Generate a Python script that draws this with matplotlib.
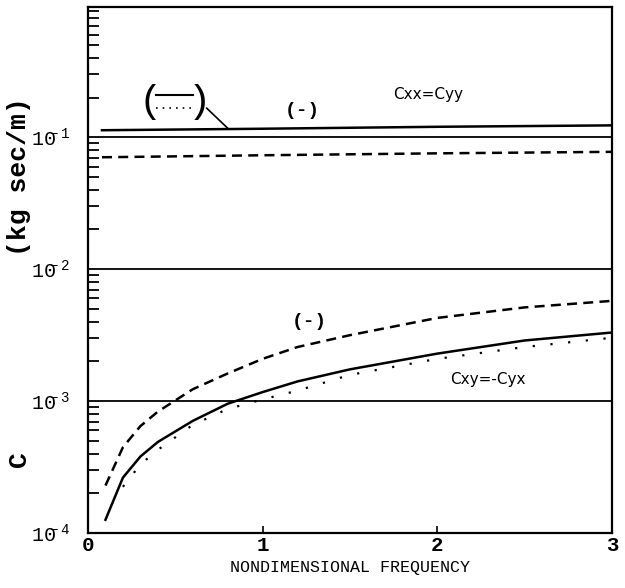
import numpy as np
import matplotlib.pyplot as plt

# direct terms Cxx = Cyy (top pair)
freq_top = [0.08, 1.0, 2.0, 3.0]
cxx_solid = [0.113, 0.116, 0.120, 0.123]
cxx_dash = [0.0705, 0.073, 0.0755, 0.0775]

# cross terms Cxy = -Cyx
freq = [0.1, 0.2, 0.3, 0.4, 0.6, 0.8, 1.0, 1.2, 1.5, 2.0, 2.5, 3.0]
cxy_solid = [1.26e-4, 2.63e-4, 3.80e-4, 4.90e-4, 7.08e-4, 9.55e-4,
             1.17e-3, 1.41e-3, 1.74e-3, 2.29e-3, 2.88e-3, 3.31e-3]
cxy_dash = [2.29e-4, 4.47e-4, 6.46e-4, 8.32e-4, 1.23e-3, 1.62e-3,
            2.09e-3, 2.57e-3, 3.16e-3, 4.27e-3, 5.13e-3, 5.75e-3]
freq_dot = [0.2, 0.3, 0.4, 0.6, 0.8, 1.0, 1.2, 1.5, 2.0, 2.5, 3.0]
cxy_dot = [2.24e-4, 3.31e-4, 4.27e-4, 6.61e-4, 8.71e-4, 1.03e-3,
           1.20e-3, 1.58e-3, 2.09e-3, 2.57e-3, 3.02e-3]

decades = [1e-1, 1e-2, 1e-3]
ytick_vals = [1e-4, 1e-3, 1e-2, 1e-1]
# exponent tucked over the last digit, like the plotter output
neg = r'\!' * 5
ytick_labels = ['$10^{' + neg + '-' + e + '}$' for e in ['4', '3', '2', '1']]
xtick_vals = [0, 1, 2, 3]

plt.rcParams['font.family'] = ['Liberation Mono', 'DejaVu Sans Mono']
plt.rcParams['mathtext.fontset'] = 'custom'
plt.rcParams['mathtext.rm'] = 'Liberation Mono'
plt.rcParams['mathtext.it'] = 'Liberation Mono'

fig = plt.figure(figsize=(6.25, 5.88), dpi=100)
ax = fig.add_axes([0.1408, 0.0935, 0.979 - 0.1408, 0.988 - 0.0935])

dash = (0, (4, 2.5))
dot = (0, (1, 7))

for d in decades:
    ax.axhline(d, color='black', lw=1.3)

ax.plot(freq_top, cxx_solid, color='black', lw=1.8)
ax.plot(freq_top, cxx_dash, color='black', lw=1.8, linestyle=dash)

ax.plot(freq, cxy_solid, color='black', lw=1.8)
ax.plot(freq, cxy_dash, color='black', lw=1.8, linestyle=dash)
ax.plot(freq_dot, cxy_dot, color='black', lw=1.6, linestyle=dot)

ax.set_yscale('log')
ax.set_xlim(0, 3)
ax.set_ylim(1e-4, 0.97)

ax.set_xticks(xtick_vals)
ax.set_xticklabels([str(v) for v in xtick_vals], fontsize=15, fontweight='bold')
ax.set_yticks(ytick_vals)
ax.set_yticklabels(ytick_labels, fontsize=14.5, fontweight='bold')
ax.tick_params(axis='x', direction='in', length=5, width=1.2, pad=2)
ax.tick_params(axis='y', which='major', direction='in', length=0, pad=13)
ax.tick_params(axis='y', which='minor', direction='in', length=8, width=1.3)
ax.tick_params(right=False, top=False, which='both')
for s in ax.spines.values():
    s.set_linewidth(1.6)

ax.set_xlabel('NONDIMENSIONAL FREQUENCY', fontsize=12, labelpad=4)

# y-axis label in two parts
fig.text(0.030, 0.22, 'C', rotation=90, fontsize=19, fontweight='bold',
         ha='center', va='center')
fig.text(0.030, 0.70, '(kg sec/m)', rotation=90, fontsize=19, fontweight='bold',
         ha='center', va='center')

# annotations
ax.text(1.95, 0.212, 'Cxx=Cyy', fontsize=11, fontfamily='DejaVu Sans',
        ha='center', va='center')
ax.text(1.23, 0.16, '(-)', fontsize=14, fontweight='bold', ha='center', va='center')
ax.text(1.27, 4.0e-3, '(-)', fontsize=14, fontweight='bold', ha='center', va='center')
ax.text(2.29, 1.45e-3, 'Cxy=-Cyx', fontsize=11, fontfamily='DejaVu Sans',
        ha='center', va='center')

# callout legend: solid and dotted lines coincide
ax.text(0.355, 0.184, '(', fontsize=28, ha='center', va='center')
ax.text(0.64, 0.184, ')', fontsize=28, ha='center', va='center')
ax.plot([0.39, 0.60], [0.208, 0.208], color='black', lw=1.5)
ax.plot([0.39, 0.60], [0.166, 0.166], color='black', lw=1.2, linestyle=(0, (1, 3)))
ax.plot([0.68, 0.80], [0.166, 0.117], color='black', lw=1.2)

fig.savefig('out.png', dpi=100)
